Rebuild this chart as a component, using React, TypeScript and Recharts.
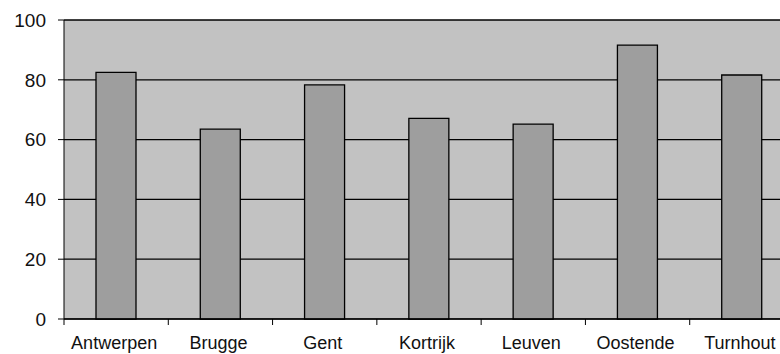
// Grey scanned-style column chart: seven Flemish cities, 0–100 scale.
// The original plot runs past the right edge, so the chart is a bit wider
// than the page and the wrapper clips it.

import { Bar, BarChart, CartesianGrid, XAxis, YAxis } from "recharts";

const cities = ["Antwerpen", "Brugge", "Gent", "Kortrijk", "Leuven", "Oostende", "Turnhout"];
const scores = [82.5, 63.5, 78.3, 67.1, 65.2, 91.6, 81.6];
const yTicks = [0, 20, 40, 60, 80, 100];

const data = cities.map((name, i) => ({ name, value: scores[i] }));

const CHART_W = 800;
const CHART_H = 346;
const Y_W = 56;
const RIGHT = 14;
const HALF_BAND = (CHART_W - Y_W - RIGHT) / cities.length / 2;
const FONT = "'Liberation Sans', Arial, sans-serif";

// label centred under the bar, tick mark on the category's left boundary
function CityTick({ x, y, payload }: any) {
  return (
    <g>
      <line x1={x - HALF_BAND} x2={x - HALF_BAND} y1={y} y2={y + 6} stroke="#000" />
      <text x={x - 2} y={y + 30} textAnchor="middle" fontSize={18} fontFamily={FONT} fill="#111">
        {payload.value}
      </text>
    </g>
  );
}

export default function App() {
  // taken out of the flow so the wider chart never makes the page scroll
  return (
    <div
      style={{
        position: "absolute",
        left: 8,
        top: 8,
        width: 772,
        height: CHART_H,
        overflow: "hidden",
        background: "#fff",
      }}
    >
      <BarChart
        width={CHART_W}
        height={CHART_H}
        data={data}
        margin={{ top: 12, right: RIGHT, left: 0, bottom: 0 }}
      >
        <CartesianGrid vertical={false} stroke="#000" strokeWidth={1.3} fill="#c2c2c2" fillOpacity={1} />
        <XAxis
          dataKey="name"
          height={35}
          tickSize={0}
          tickMargin={0}
          tickLine={false}
          axisLine={{ stroke: "#000" }}
          tick={<CityTick />}
          interval={0}
        />
        <YAxis
          width={Y_W}
          domain={[0, 100]}
          ticks={yTicks}
          tickSize={6}
          tickMargin={12}
          axisLine={{ stroke: "#000" }}
          tickLine={{ stroke: "#000" }}
          tick={{ fontSize: 19, fontFamily: FONT, fill: "#111" }}
        />
        <Bar dataKey="value" fill="#9e9e9e" stroke="#000" strokeWidth={1.3} barSize={40} isAnimationActive={false} />
      </BarChart>
    </div>
  );
}
